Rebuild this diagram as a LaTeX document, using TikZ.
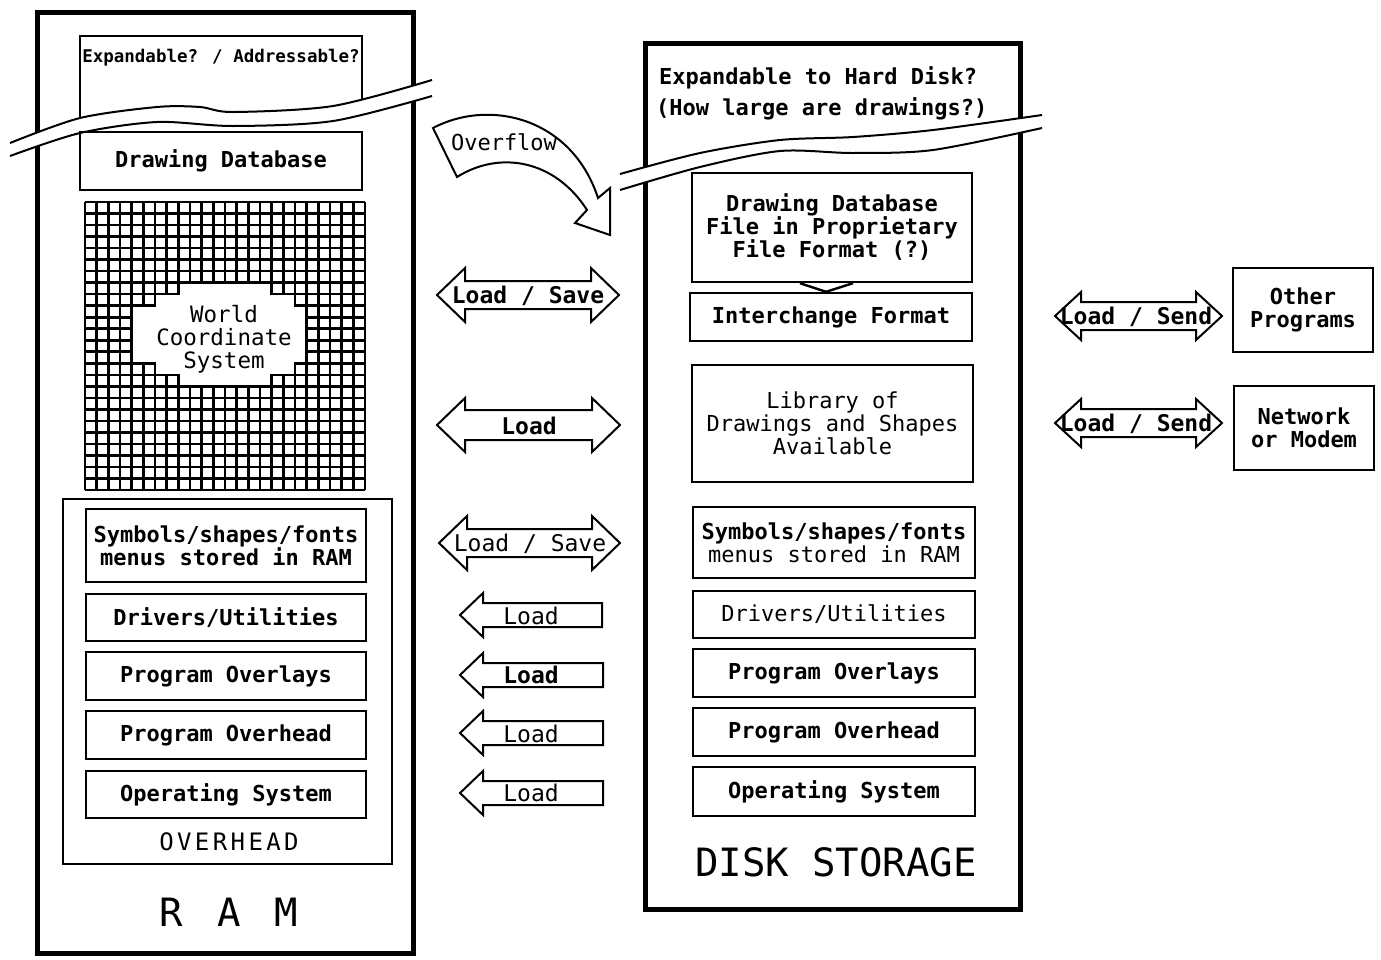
\documentclass[tikz,border=0pt]{standalone}
\usepackage{fontspec}
\newfontfamily\plotfont{DejaVu Sans Mono}
\usetikzlibrary{calc}
\tikzset{
 outerbox/.style={draw, line width=5pt, inner sep=0pt},
 ibox/.style={draw, line width=2.4pt, inner sep=0pt, align=center, font=\plotfont\bfseries\fontsize{22}{23}\selectfont},
 iboxr/.style={ibox, font=\plotfont\fontsize{22}{23}\selectfont},
 iline/.style={line width=2.4pt},
 gridl/.style={line width=2.6pt},
 arr/.style={draw, line width=2pt, line join=miter},
 wave/.style={line width=2pt},
 lblb/.style={inner sep=0pt, align=center, font=\plotfont\bfseries\fontsize{22}{23}\selectfont},
 lblr/.style={inner sep=0pt, align=center, font=\plotfont\fontsize{22}{23}\selectfont},
 big/.style={inner sep=0pt, font=\plotfont\fontsize{39}{39}\selectfont},
}
% double arrow: x1, x2, yc, head length, head half height, body half height
\newcommand\dblarr[6]{%
 \draw[arr] (#1,#3) -- ({#1+#4},{#3-#5}) -- ({#1+#4},{#3-#6}) -- ({#2-#4},{#3-#6}) -- ({#2-#4},{#3-#5}) -- (#2,#3)
  -- ({#2-#4},{#3+#5}) -- ({#2-#4},{#3+#6}) -- ({#1+#4},{#3+#6}) -- ({#1+#4},{#3+#5}) -- cycle;}
% left arrow: x1 (tip), x2 (tail), yc
\newcommand\leftarr[3]{%
 \draw[arr] (#1,#3) -- ({#1+23},{#3-22}) -- ({#1+23},{#3-12}) -- (#2,{#3-12}) -- (#2,{#3+12}) -- ({#1+23},{#3+12}) -- ({#1+23},{#3+22}) -- cycle;}
\begin{document}
\begin{tikzpicture}[x=1pt,y=-1pt]
\useasboundingbox (0,0) rectangle (1381,959);
\fill[white] (0,0) rectangle (1381,959);

% ================= RAM =================
\node[outerbox, minimum width=376pt, minimum height=941pt] (ram) at (225,482.5) {};
\draw[iline] (80,125) -- (80,36) -- (362,36) -- (362,108);
\node[lblb, font=\plotfont\bfseries\fontsize{17.5}{17.5}\selectfont] (expA) at (221,58) {Expandable? / Addressable?};

% grid
\begin{scope}[shift={(85,202)}, x=11.667pt, y=-11.52pt]
 \foreach \i in {0,...,24} \draw[gridl] (\i,0) -- (\i,25);
 \foreach \j in {0,...,25} \draw[gridl] (0,\j) -- (24,\j);
 \draw[gridl, fill=white] (8,7) -- (16,7) -- (16,8) -- (18,8) -- (18,9) -- (19,9) -- (19,14) -- (18,14) -- (18,15)
   -- (16,15) -- (16,16) -- (8,16) -- (8,15) -- (6,15) -- (6,14) -- (4,14) -- (4,9) -- (6,9) -- (6,8) -- (8,8) -- cycle;
\end{scope}
\node[lblr, font=\plotfont\fontsize{22.5}{23}\selectfont] (wcs) at (224,339) {World\\Coordinate\\System};

\node[outerbox, line width=2.4pt, minimum width=329pt, minimum height=365pt] (ovhd) at (227.5,681.5) {};
\node[ibox, minimum width=280pt, minimum height=73pt] (sym) at (226,545.5) {Symbols/shapes/fonts\\menus stored in RAM};
\node[ibox, minimum width=280pt, minimum height=47pt] (drv) at (226,617.5) {Drivers/Utilities};
\node[ibox, minimum width=280pt, minimum height=48pt] (ovl) at (226,676) {Program Overlays};
\node[ibox, minimum width=280pt, minimum height=48pt] (ovh) at (226,735) {Program Overhead};
\node[ibox, minimum width=280pt, minimum height=47pt] (os) at (226,794.5) {Operating System};
\node[inner sep=0pt, font=\plotfont\fontsize{24}{24}\selectfont] (ovtxt) at (229,842)
  {O\kern3.4pt V\kern3.4pt E\kern3.4pt R\kern3.4pt H\kern3.4pt E\kern3.4pt A\kern3.4pt D};
\node[big] (ramtxt) at (229,912) {R\hspace{34pt}A\hspace{34pt}M};

% ================= DISK =================
\node[outerbox, minimum width=375pt, minimum height=866pt] (disk) at (832.5,476) {};
\node[lblb, anchor=west] (dq1) at (659,78) {Expandable to Hard Disk?};
\node[lblb, anchor=west] (dq2) at (656,109) {(How large are drawings?)};

% ================= wave cuts =================
\fill[white] plot[smooth] coordinates {(10,143) (80,118) (157,107) (200,107) (233,112) (333,106) (432,80)}
  -- plot[smooth] coordinates {(432,96) (333,121) (233,126) (157,122) (80,133) (10,156)} -- cycle;
\draw[wave] plot[smooth] coordinates {(10,143) (80,118) (157,107) (200,107) (233,112) (333,106) (432,80)};
\draw[wave] plot[smooth] coordinates {(10,156) (80,133) (157,122) (233,126) (333,121) (432,96)};

\fill[white] plot[smooth] coordinates {(620,174) (700,153) (780,140) (853,137) (933,130) (1042,115)}
  -- plot[smooth] coordinates {(1042,128) (933,150) (853,153) (780,151) (700,167) (620,190)} -- cycle;
\draw[wave] plot[smooth] coordinates {(620,174) (700,153) (780,140) (853,137) (933,130) (1042,115)};
\draw[wave] plot[smooth] coordinates {(620,190) (700,167) (780,151) (853,153) (933,150) (1042,128)};

\node[ibox, minimum width=282pt, minimum height=58pt] (ramdb) at (221,161) {Drawing Database};

\node[ibox, minimum width=280pt, minimum height=109pt] (dbf) at (832,227.5) {Drawing Database\\File in Proprietary\\File Format (?)};
\node[ibox, minimum width=282pt, minimum height=48pt] (inter) at (831,317) {Interchange Format};
\draw[iline] ($(dbf.south)+(-32,0)$) -- ($(inter.north)+(-5,0)$) -- ($(dbf.south)+(21,0)$);
\node[iboxr, minimum width=281pt, minimum height=117pt] (lib) at (832.5,423.5) {Library of\\Drawings and Shapes\\Available};
\node[ibox, minimum width=282pt, minimum height=71pt] (sym2) at (834,542.5) {Symbols/shapes/fonts\\\mdseries menus stored in RAM};
\node[iboxr, minimum width=282pt, minimum height=47pt] (drv2) at (834,614.5) {Drivers/Utilities};
\node[ibox, minimum width=282pt, minimum height=48pt] (ovl2) at (834,673) {Program Overlays};
\node[ibox, minimum width=282pt, minimum height=48pt] (ovh2) at (834,732) {Program Overhead};
\node[ibox, minimum width=282pt, minimum height=49pt] (os2) at (834,791.5) {Operating System};
\node[big] (disktxt) at (836,862) {DISK STORAGE};

% ================= Overflow arrow =================
\draw[arr] (433,128) .. controls (490,98) and (572,118) .. (598,198) -- (610,188) -- (610,235) -- (575,223) -- (587,210)
  .. controls (555,160) and (500,150) .. (457,177) -- cycle;
\node[lblr, font=\plotfont\fontsize{22}{23}\selectfont] (ovf) at (504,142) {Overflow};

% ================= middle arrows =================
\dblarr{437}{619}{295}{28}{27}{14}
\node[lblb, font=\plotfont\bfseries\fontsize{23}{23}\selectfont] (ls1) at (528,296) {Load / Save};
\dblarr{437}{620}{425}{28}{27}{15}
\node[lblb, font=\plotfont\bfseries\fontsize{23}{23}\selectfont] (ld1) at (529,426) {Load};
\dblarr{439}{620}{543}{28}{27}{14}
\node[lblr, font=\plotfont\fontsize{23}{23}\selectfont] (ls2) at (530,544) {Load / Save};

\leftarr{460}{602}{615}
\node[lblr, font=\plotfont\fontsize{23}{23}\selectfont] (l1) at (531,616) {Load};
\leftarr{460}{603}{675}
\node[lblb, font=\plotfont\bfseries\fontsize{23}{23}\selectfont] (l2) at (531,675) {Load};
\leftarr{460}{603}{733}
\node[lblr, font=\plotfont\fontsize{23}{23}\selectfont] (l3) at (531,734) {Load};
\leftarr{460}{603}{793}
\node[lblr, font=\plotfont\fontsize{23}{23}\selectfont] (l4) at (531,793) {Load};

% ================= right side =================
\dblarr{1055}{1222}{316}{26}{24}{14}
\node[lblb, font=\plotfont\bfseries\fontsize{23}{23}\selectfont] (lsn1) at (1136,317) {Load / Send};
\dblarr{1055}{1222}{423}{26}{24}{14}
\node[lblb, font=\plotfont\bfseries\fontsize{23}{23}\selectfont] (lsn2) at (1136,424) {Load / Send};

\node[ibox, line width=2.2pt, minimum width=140pt, minimum height=84pt, font=\plotfont\bfseries\fontsize{22}{23}\selectfont] (oth) at (1303,310) {Other\\Programs};
\node[ibox, line width=2.2pt, minimum width=140pt, minimum height=84pt, font=\plotfont\bfseries\fontsize{22}{23}\selectfont] (net) at (1304,428) {Network\\or Modem};
\end{tikzpicture}
\end{document}
